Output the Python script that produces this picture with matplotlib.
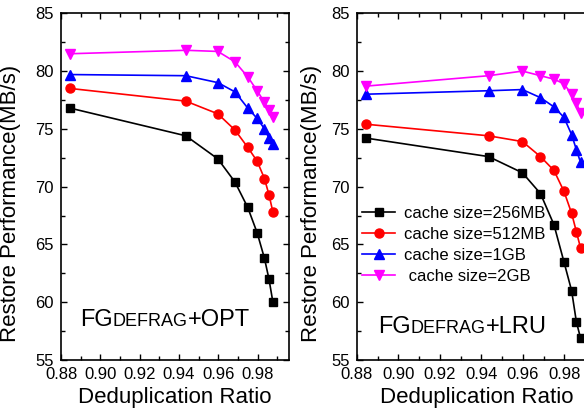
import matplotlib.pyplot as plt
from matplotlib.offsetbox import TextArea, HPacker, AnchoredOffsetbox
from matplotlib.ticker import MultipleLocator

plt.rcParams['font.family'] = ['Liberation Sans', 'DejaVu Sans']

dedup_ratio = [0.8845, 0.9435, 0.9598, 0.9685, 0.9750, 0.9798, 0.9835, 0.9858, 0.9878]

labels = ['cache size=256MB', 'cache size=512MB', 'cache size=1GB', ' cache size=2GB']
colors = ['black', 'red', 'blue', 'magenta']
markers = ['s', 'o', '^', 'v']
msizes = [5.5, 6.5, 7, 7]

opt_256mb = [76.8, 74.4, 72.4, 70.4, 68.2, 66.0, 63.8, 62.0, 60.0]
opt_512mb = [78.5, 77.4, 76.3, 74.9, 73.4, 72.2, 70.7, 69.3, 67.8]
opt_1gb = [79.7, 79.6, 79.0, 78.2, 76.8, 75.9, 75.0, 74.2, 73.7]
opt_2gb = [81.5, 81.8, 81.7, 80.8, 79.5, 78.3, 77.3, 76.6, 76.0]

lru_256mb = [74.2, 72.6, 71.2, 69.4, 66.7, 63.5, 61.0, 58.3, 56.9]
lru_512mb = [75.4, 74.4, 73.9, 72.6, 71.4, 69.6, 67.7, 66.1, 64.7]
lru_1gb = [78.0, 78.3, 78.4, 77.7, 76.9, 76.0, 74.5, 73.2, 72.1]
lru_2gb = [78.7, 79.6, 80.0, 79.6, 79.3, 78.9, 78.0, 77.2, 76.4]

fig = plt.figure(figsize=(5.84, 4.17), dpi=100)
ax1 = fig.add_axes([0.1045, 0.1367, 0.3904, 0.8314])
ax2 = fig.add_axes([0.611, 0.1367, 0.4122, 0.8314])


def draw_panel(ax, series, tag, text_xy, ylabel_x):
    for ys, c, m, ms, lab in zip(series, colors, markers, msizes, labels):
        ax.plot(dedup_ratio, ys, color=c, marker=m, markersize=ms,
                linewidth=1.2, label=lab)
    ax.set_xlim(0.88, 0.996)
    ax.set_ylim(55, 85)
    ax.xaxis.set_major_locator(MultipleLocator(0.02))
    ax.xaxis.set_minor_locator(MultipleLocator(0.01))
    ax.yaxis.set_major_locator(MultipleLocator(5))
    ax.yaxis.set_minor_locator(MultipleLocator(2.5))
    ax.set_xticks([0.88, 0.90, 0.92, 0.94, 0.96, 0.98])
    ax.set_xticklabels(['0.88', '0.90', '0.92', '0.94', '0.96', '0.98'])
    ax.tick_params(which='both', direction='in', top=True, right=True,
                   labelsize=12, width=1)
    ax.tick_params(which='major', length=4)
    ax.tick_params(which='minor', length=3)
    ax.tick_params(axis='x', pad=5)
    ax.tick_params(axis='y', pad=5)
    for sp in ax.spines.values():
        sp.set_linewidth(1.2)
    ax.set_xlabel('Deduplication Ratio', fontsize=16)
    ax.set_ylabel('Restore Performance(MB/s)', fontsize=16)
    ax.xaxis.set_label_coords(0.5, -0.078)
    ax.yaxis.set_label_coords(ylabel_x, 0.451)

    parts = [TextArea('FG', textprops=dict(size=17)),
             TextArea('DEFRAG', textprops=dict(size=13)),
             TextArea(tag, textprops=dict(size=17))]
    box = HPacker(children=parts, align='baseline', pad=0, sep=0)
    anchored = AnchoredOffsetbox(loc='lower left', child=box, pad=0,
                                 borderpad=0, frameon=False,
                                 bbox_to_anchor=text_xy,
                                 bbox_transform=fig.transFigure)
    ax.add_artist(anchored)


draw_panel(ax1, [opt_256mb, opt_512mb, opt_1gb, opt_2gb], '+OPT',
           (80 / 584, 1 - 331 / 417), -0.175)
draw_panel(ax2, [lru_256mb, lru_512mb, lru_1gb, lru_2gb], '+LRU',
           (378 / 584, 1 - 338 / 417), -0.145)

ax2.legend(loc='upper left', bbox_to_anchor=(362 / 584, 1 - 206 / 417),
           bbox_transform=fig.transFigure, frameon=False, fontsize=12,
           handlelength=2.0, handletextpad=0.5, labelspacing=0.36,
           borderpad=0, borderaxespad=0)

fig.savefig('out.png', dpi=100)
